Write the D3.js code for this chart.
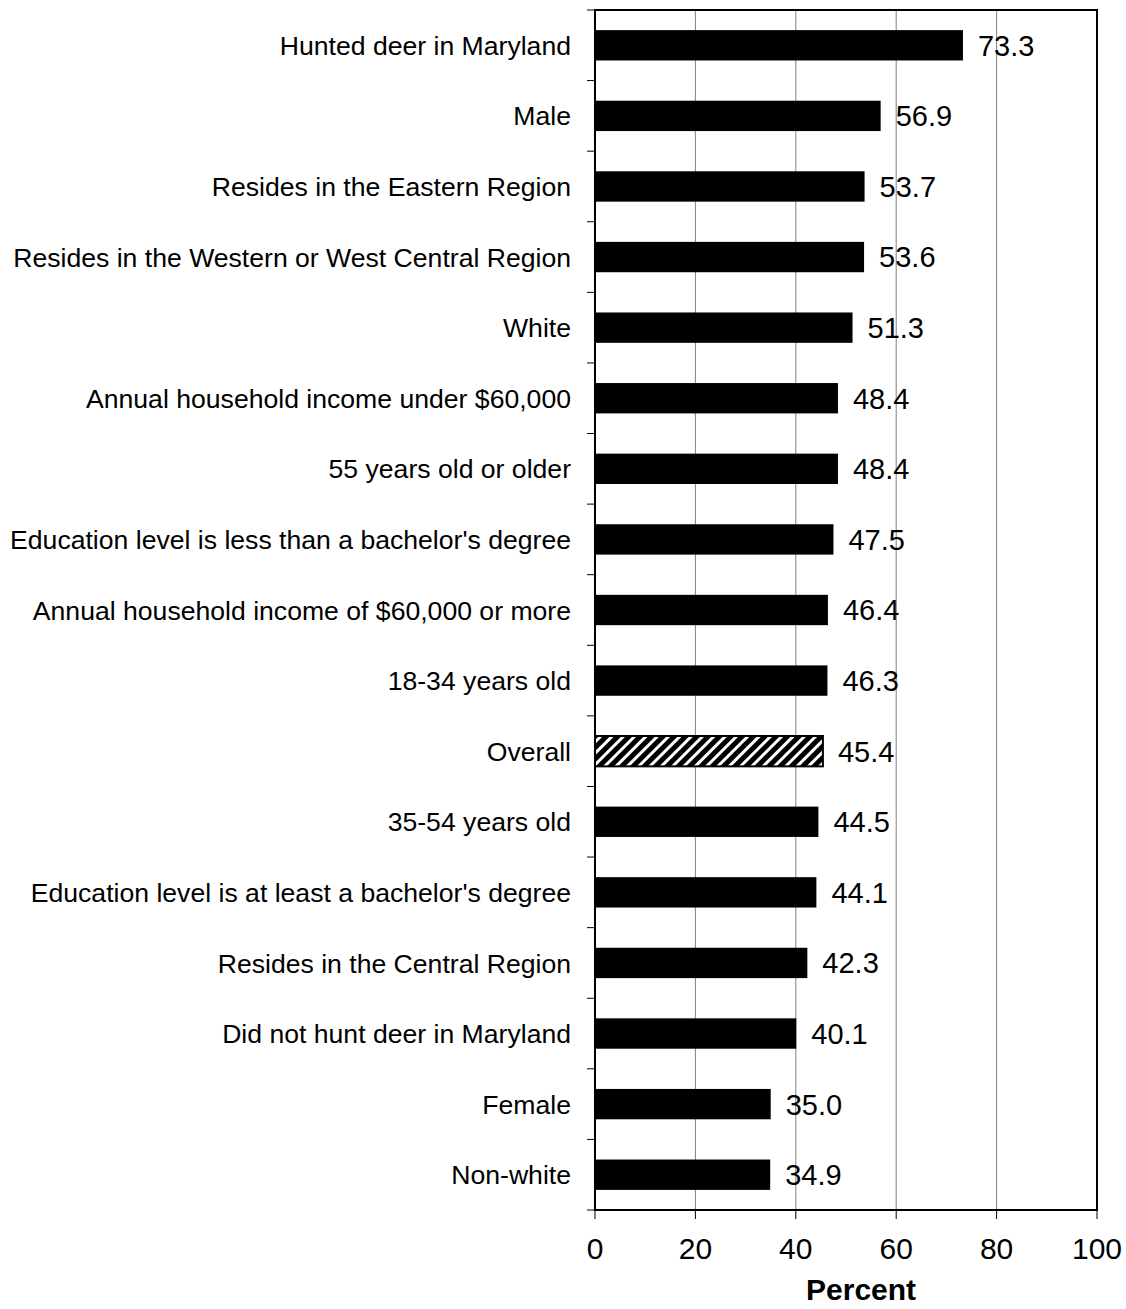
<!DOCTYPE html>
<html><head><meta charset="utf-8">
<script src="https://cdn.jsdelivr.net/npm/d3@7"></script>
<style>body{margin:0;background:#fff}</style>
</head><body>
<script>
const categories = ["Hunted deer in Maryland","Male","Resides in the Eastern Region","Resides in the Western or West Central Region","White","Annual household income under $60,000","55 years old or older","Education level is less than a bachelor's degree","Annual household income of $60,000 or more","18-34 years old","Overall","35-54 years old","Education level is at least a bachelor's degree","Resides in the Central Region","Did not hunt deer in Maryland","Female","Non-white"];
const values = [73.3,56.9,53.7,53.6,51.3,48.4,48.4,47.5,46.4,46.3,45.4,44.5,44.1,42.3,40.1,35.0,34.9];
const xTicks = [0,20,40,60,80,100];
const highlight = "Overall";

const W=1126,H=1309;
const m={l:595,r:1097,t:10,b:1210};
const svg=d3.select("body").append("svg").attr("width",W).attr("height",H).style("font-family","'Liberation Sans', Arial, sans-serif");
const defs=svg.append("defs");
const pat=defs.append("pattern").attr("id","hatch").attr("patternUnits","userSpaceOnUse").attr("width",8).attr("height",8).attr("patternTransform","rotate(45)");
pat.append("rect").attr("width",8).attr("height",8).attr("fill","#000");
pat.append("rect").attr("x",0).attr("width",3).attr("height",8).attr("fill","#fff");

const x=d3.scaleLinear().domain([0,100]).range([m.l,m.r]);
const y=d3.scaleBand().domain(categories).range([m.t,m.b]).paddingInner(0.57).paddingOuter(0.285);
const yb=d3.scaleBand().domain(categories).range([m.t,m.b]);

// gridlines
svg.append("g").selectAll("line").data(xTicks.filter(d=>d>0&&d<100)).join("line")
 .attr("x1",d=>x(d)).attr("x2",d=>x(d)).attr("y1",m.t).attr("y2",m.b).attr("stroke","#808080").attr("stroke-width",1);

// bars
svg.append("g").selectAll("rect").data(categories).join("rect")
 .attr("x",x(0)).attr("y",d=>y(d)).attr("height",y.bandwidth())
 .attr("width",(d,i)=>x(values[i])-x(0))
 .attr("fill",d=>d===highlight?"url(#hatch)":"#000")
 .attr("stroke","#000").attr("stroke-width",d=>d===highlight?2:0);

// value labels
svg.append("g").selectAll("text").data(categories).join("text")
 .attr("x",(d,i)=>x(values[i])+15).attr("y",d=>y(d)+y.bandwidth()/2).attr("dy","0.36em")
 .attr("font-size",29).attr("fill","#000").text((d,i)=>values[i].toFixed(1));

// frame
svg.append("rect").attr("x",m.l).attr("y",m.t).attr("width",m.r-m.l).attr("height",m.b-m.t).attr("fill","none").attr("stroke","#000").attr("stroke-width",2);

// y ticks (category boundaries)
const bounds=categories.map(c=>yb(c)).concat([m.b]);
svg.append("g").selectAll("line").data(bounds).join("line")
 .attr("x1",m.l-8).attr("x2",m.l).attr("y1",d=>d).attr("y2",d=>d).attr("stroke","#000").attr("stroke-width",1);

// category labels
svg.append("g").selectAll("text").data(categories).join("text")
 .attr("x",571).attr("y",d=>yb(d)+yb.bandwidth()/2).attr("dy","0.36em").attr("text-anchor","end")
 .attr("font-size",26.6).attr("fill","#000").text(d=>d);

// x axis ticks
const xa=svg.append("g");
xa.selectAll("line").data(xTicks).join("line").attr("x1",d=>x(d)).attr("x2",d=>x(d)).attr("y1",m.b).attr("y2",m.b+9).attr("stroke","#000");
xa.selectAll("text").data(xTicks).join("text").attr("x",d=>x(d)).attr("y",1248).attr("dy","0.36em").attr("text-anchor","middle").attr("font-size",30).text(d=>d);
svg.append("text").attr("x",x(53)).attr("y",1289).attr("dy","0.36em").attr("text-anchor","middle").attr("font-size",30).attr("font-weight","bold").text("Percent");
</script>
</body></html>
